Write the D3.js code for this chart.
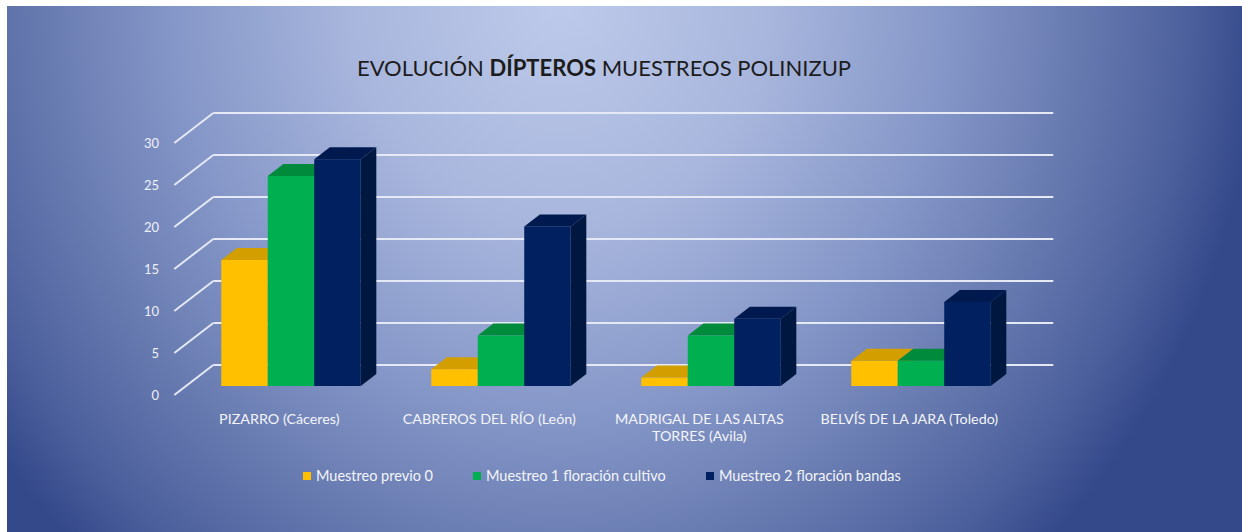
<!DOCTYPE html>
<html>
<head>
<meta charset="utf-8">
<script src="https://cdn.jsdelivr.net/npm/d3@7"></script>
<style>
  html, body { margin: 0; padding: 0; background: #fff; }
  svg { display: block; }
  text { font-family: Lato, "Open Sans", sans-serif; }
</style>
</head>
<body>
<div id="chart"></div>
<script>
// Chart data
const categories = ["PIZARRO (Cáceres)", "CABREROS DEL RÍO (León)", "MADRIGAL DE LAS ALTAS TORRES (Avila)", "BELVÍS DE LA JARA (Toledo)"];
const seriesNames = ["Muestreo previo 0", "Muestreo 1 floración cultivo", "Muestreo 2 floración bandas"];
const previo = [15, 2, 1, 3];
const floracionCultivo = [25, 6, 6, 3];
const floracionBandas = [27, 19, 8, 10];
const yTicks = [0, 5, 10, 15, 20, 25, 30];

const seriesValues = [previo, floracionCultivo, floracionBandas];
const faceColors = [
    { front: "#FFC000", top: "#D29E00", side: "#C08F00" },
    { front: "#00B050", top: "#008A3C", side: "#007D36" },
    { front: "#002060", top: "#001A4F", side: "#00173F" }
];

const W = 1242, H = 532;
const svg = d3.select("#chart").append("svg")
    .attr("width", W)
    .attr("height", H);

// Background gradient
const defs = svg.append("defs");
const grad = defs.append("radialGradient")
    .attr("id", "bg")
    .attr("gradientUnits", "userSpaceOnUse")
    .attr("cx", 560).attr("cy", 0).attr("r", 700)
    .attr("gradientTransform", "translate(560,0) scale(1,1.08) translate(-560,0)");
[[0, "#bdcaea"], [0.3, "#a8b6dd"], [0.55, "#8597c8"], [0.75, "#6679af"], [0.9, "#4c609d"], [1, "#34498a"]]
    .forEach(s => grad.append("stop").attr("offset", s[0]).attr("stop-color", s[1]));

svg.append("rect").attr("x", 7).attr("y", 6).attr("width", W - 7).attr("height", H - 6).attr("fill", "url(#bg)");

// Title
const title = svg.append("text")
    .attr("x", 604).attr("y", 76)
    .attr("text-anchor", "middle")
    .style("font-size", "22px")
    .attr("fill", "#1c1c1c");
title.append("tspan").text("EVOLUCIÓN ");
title.append("tspan").attr("font-weight", "bold").text("DÍPTEROS");
title.append("tspan").text(" MUESTREOS POLINIZUP");

// Scales (front plane of the bars) + depth projection
const x = d3.scaleBand().domain(categories).range([186, 1026]).paddingInner(0.336).paddingOuter(0.168);
const xs = d3.scaleBand().domain(seriesNames).range([0, x.bandwidth()]);
const y = d3.scaleLinear().domain([0, 30]).range([386, 134]);
const dep = z => [z * 1.3, -z];   // screen offset of depth z
const barDepth = 12, wallDepth = 21, frontDepth = -9;

const grid = svg.append("g");
const xLeft = x.range()[0], xRight = x.range()[1];

// side wall lines (front to back) and back wall lines
yTicks.forEach(t => {
    const f = dep(frontDepth), b = dep(wallDepth);
    grid.append("line")
        .attr("x1", xLeft + f[0]).attr("y1", y(t) + f[1])
        .attr("x2", xLeft + b[0]).attr("y2", y(t) + b[1])
        .attr("stroke", "#e4e9f5").attr("stroke-width", 2);
    grid.append("line")
        .attr("x1", xLeft + b[0]).attr("y1", y(t) + b[1])
        .attr("x2", xRight + b[0]).attr("y2", y(t) + b[1])
        .attr("stroke", "#e4e9f5").attr("stroke-width", 2);
});

// y tick labels
const f0 = dep(frontDepth);
svg.append("g").selectAll("text")
    .data(yTicks)
    .join("text")
    .attr("x", 159).attr("y", d => y(d) + f0[1])
    .attr("dy", "0.35em")
    .attr("text-anchor", "end")
    .style("font-size", "13px")
    .attr("fill", "#eef0f6")
    .text(d => d);

// 3D bars
const bars = svg.append("g");
const d = dep(barDepth);
categories.forEach((cat, ci) => {
    seriesNames.forEach((s, si) => {
        const v = seriesValues[si][ci];
        const x0 = x(cat) + xs(s), x1 = x0 + xs.bandwidth();
        const yt = y(v), yb = y(0);
        const c = faceColors[si];
        bars.append("polygon")
            .attr("points", [[x1, yt], [x1 + d[0], yt + d[1]], [x1 + d[0], yb + d[1]], [x1, yb]].join(" "))
            .attr("fill", c.side);
        bars.append("polygon")
            .attr("points", [[x0, yt], [x1, yt], [x1 + d[0], yt + d[1]], [x0 + d[0], yt + d[1]]].join(" "))
            .attr("fill", c.top);
        bars.append("rect")
            .attr("x", x0).attr("y", yt)
            .attr("width", x1 - x0).attr("height", yb - yt)
            .attr("fill", c.front);
    });
});

// category labels
const catG = svg.append("g");
categories.forEach(cat => {
    const cx = x(cat) + x.bandwidth() / 2 + f0[0];
    const t = catG.append("text")
        .attr("x", cx).attr("y", 424)
        .attr("text-anchor", "middle")
        .style("font-size", "14.3px")
        .attr("fill", "#f4f5f9");
    const lines = cat.length > 28 ? [cat.slice(0, cat.indexOf(" TORRES")), cat.slice(cat.indexOf(" TORRES") + 1)] : [cat];
    lines.forEach((ln, i) => t.append("tspan").attr("x", cx).attr("dy", i ? 17 : 0).text(ln));
});

// legend
const legendX = [303, 473, 706];
const legend = svg.append("g");
seriesNames.forEach((s, i) => {
    legend.append("rect")
        .attr("x", legendX[i]).attr("y", 472).attr("width", 8).attr("height", 8)
        .attr("fill", faceColors[i].front);
    legend.append("text")
        .attr("x", legendX[i] + 13).attr("y", 476)
        .attr("dy", "0.35em")
        .style("font-size", "14.5px")
        .attr("fill", "#f4f5f9")
        .text(s);
});
</script>
</body>
</html>
